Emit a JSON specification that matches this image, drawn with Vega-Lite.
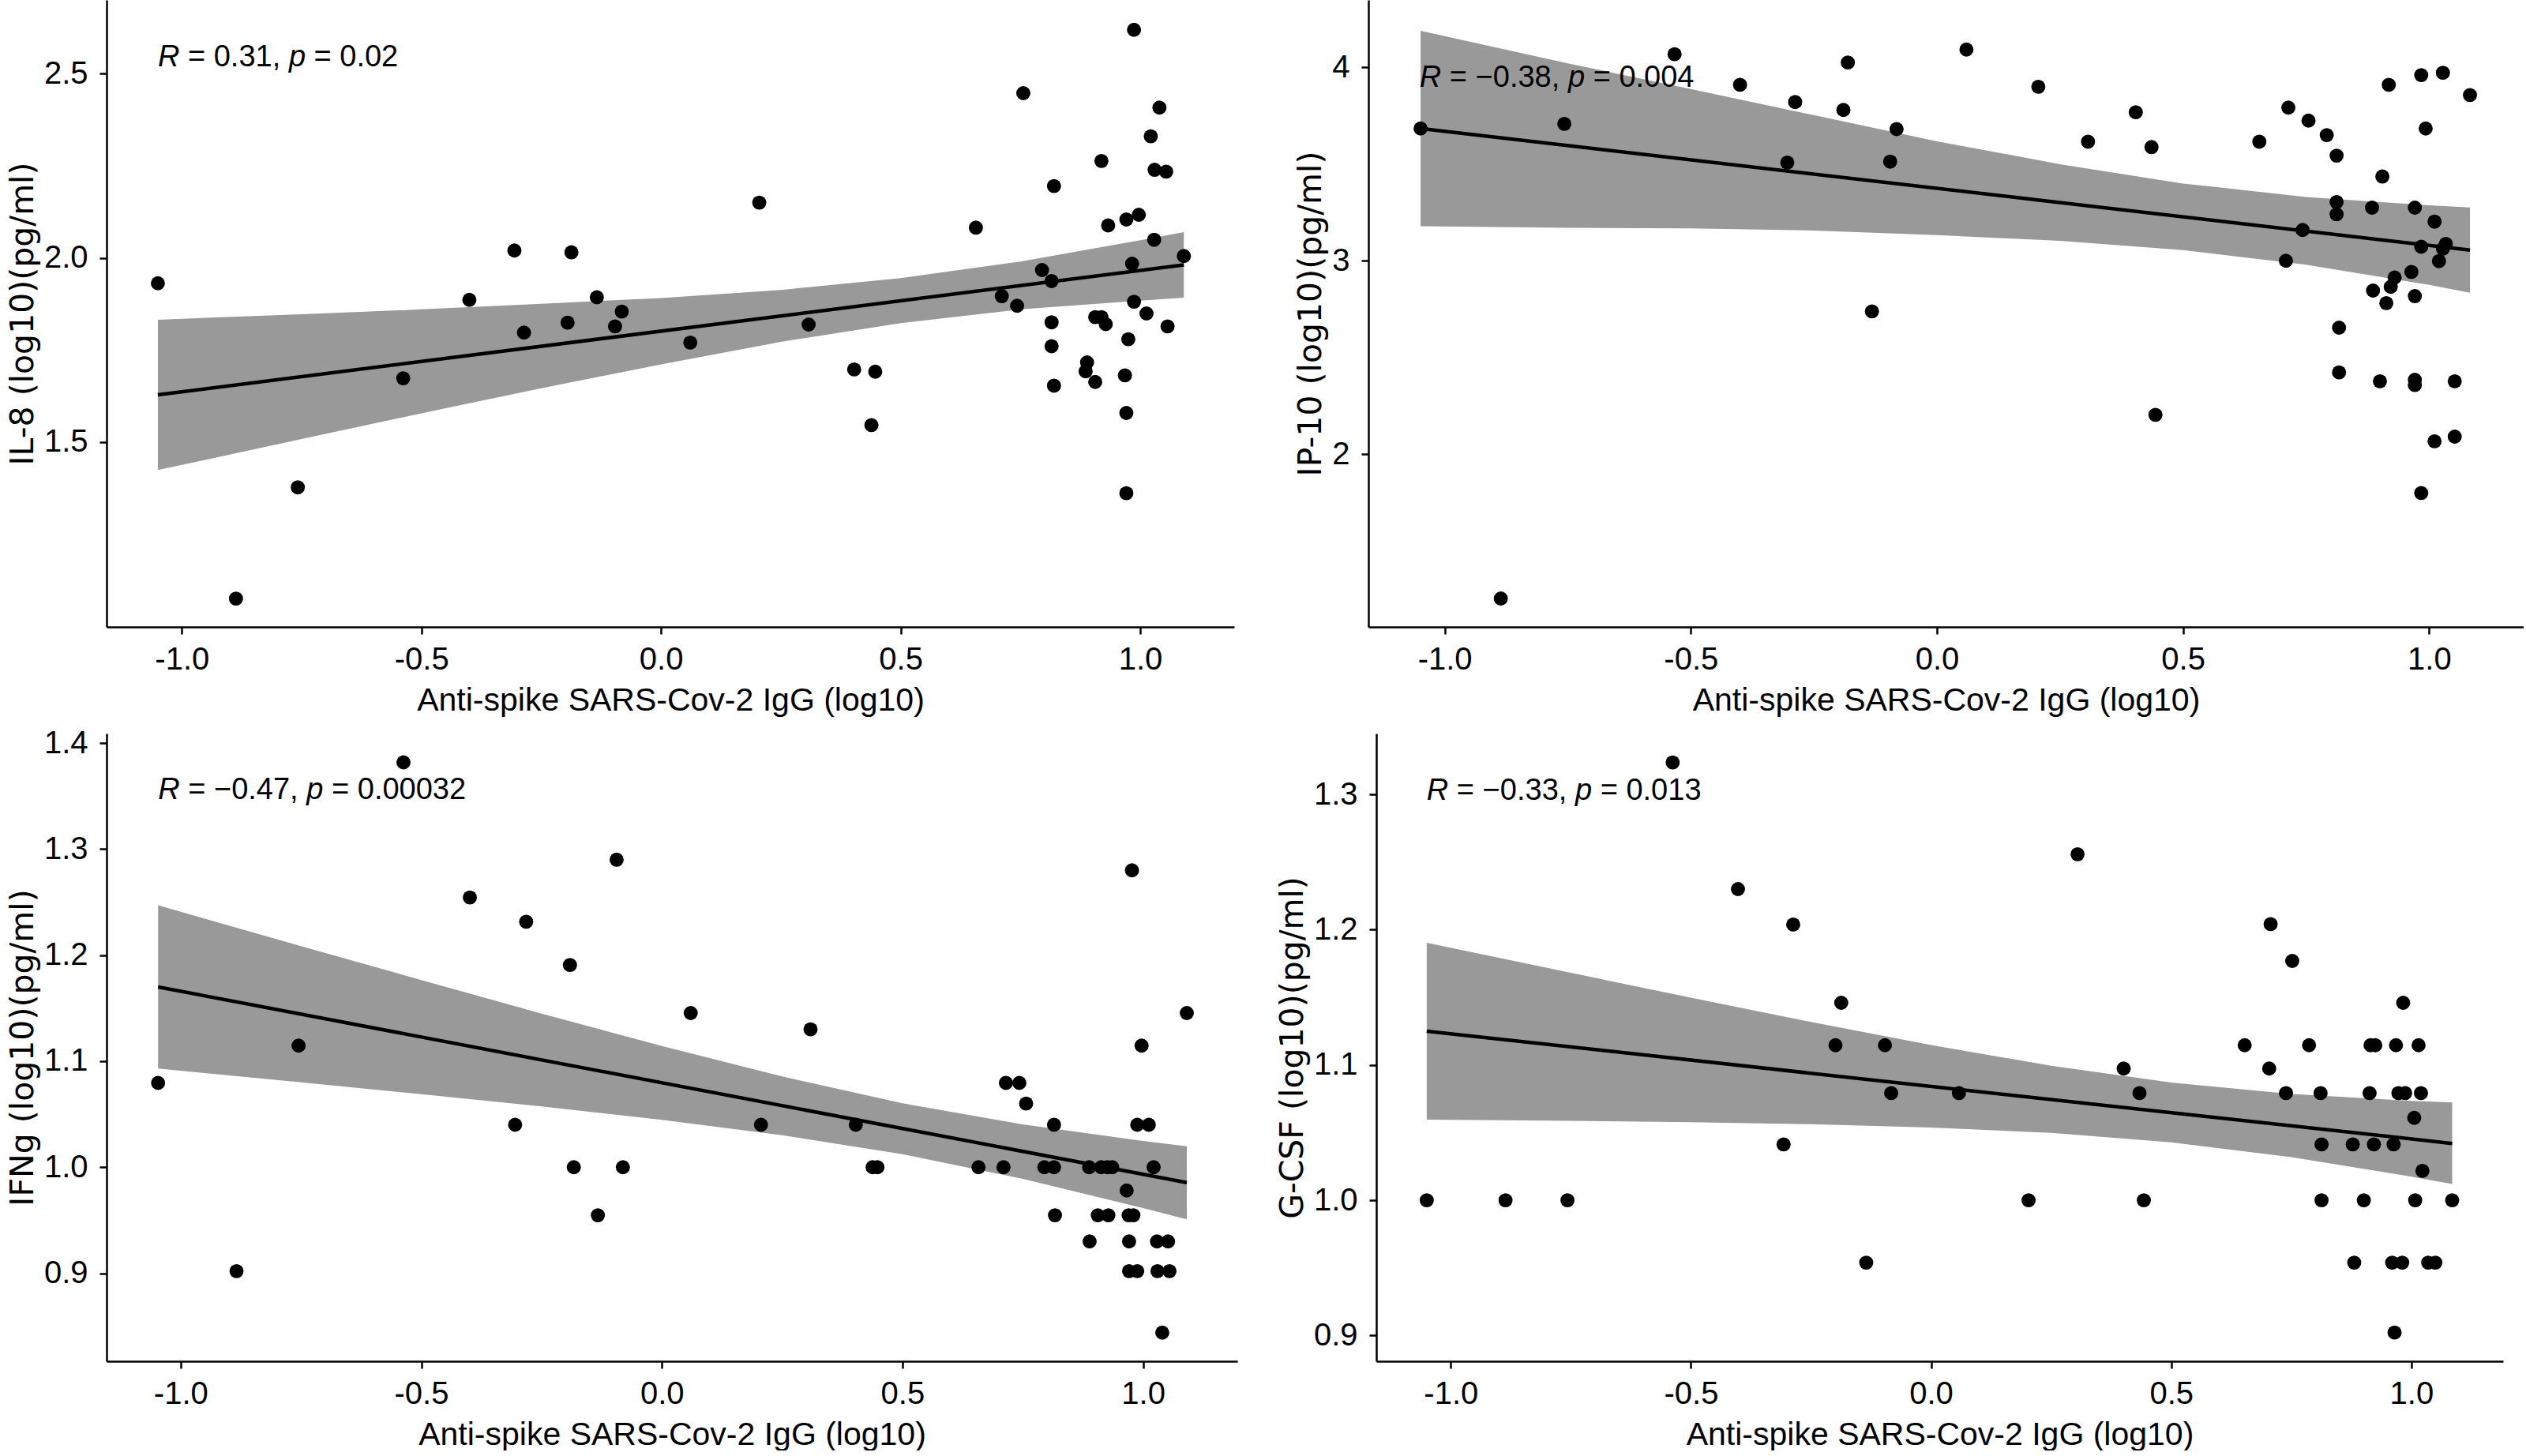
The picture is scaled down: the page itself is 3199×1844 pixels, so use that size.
{
  "$schema": "https://vega.github.io/schema/vega-lite/v6.json",
  "padding": {"left": 8, "top": 0, "right": 0, "bottom": 0},
  "spacing": 14,
  "datasets": {
    "il8_pts": [
      {"x": -1.050, "y": 1.931}, {"x": -0.887, "y": 1.075}, {"x": -0.758, "y": 1.377}, {"x": -0.538, "y": 1.673},
      {"x": -0.400, "y": 1.886}, {"x": -0.306, "y": 2.020}, {"x": -0.286, "y": 1.797}, {"x": -0.195, "y": 1.824},
      {"x": -0.187, "y": 2.015}, {"x": -0.134, "y": 1.893}, {"x": -0.096, "y": 1.814}, {"x": -0.082, "y": 1.854},
      {"x": 0.061, "y": 1.770}, {"x": 0.205, "y": 2.150}, {"x": 0.308, "y": 1.819}, {"x": 0.403, "y": 1.697},
      {"x": 0.447, "y": 1.691}, {"x": 0.439, "y": 1.546}, {"x": 0.657, "y": 2.082}, {"x": 0.711, "y": 1.896},
      {"x": 0.743, "y": 1.870}, {"x": 0.756, "y": 2.447}, {"x": 0.795, "y": 1.967}, {"x": 0.815, "y": 1.937},
      {"x": 0.820, "y": 2.195}, {"x": 0.815, "y": 1.825}, {"x": 0.815, "y": 1.760}, {"x": 0.820, "y": 1.653},
      {"x": 0.889, "y": 1.716}, {"x": 0.886, "y": 1.692}, {"x": 0.906, "y": 1.663}, {"x": 0.906, "y": 1.839},
      {"x": 0.919, "y": 1.839}, {"x": 0.919, "y": 2.263}, {"x": 0.928, "y": 1.820}, {"x": 0.933, "y": 2.088},
      {"x": 0.971, "y": 2.104}, {"x": 0.975, "y": 1.779}, {"x": 0.968, "y": 1.681}, {"x": 0.971, "y": 1.579},
      {"x": 0.971, "y": 1.361}, {"x": 0.987, "y": 2.619}, {"x": 0.983, "y": 1.984}, {"x": 0.987, "y": 1.881},
      {"x": 0.997, "y": 2.117}, {"x": 1.013, "y": 1.849}, {"x": 1.022, "y": 2.330}, {"x": 1.029, "y": 2.049},
      {"x": 1.030, "y": 2.239}, {"x": 1.040, "y": 2.408}, {"x": 1.054, "y": 2.234}, {"x": 1.057, "y": 1.814},
      {"x": 1.091, "y": 2.005}
    ],
    "il8_fit": [{"x": -1.050, "y": 1.628}, {"x": 1.091, "y": 1.981}],
    "il8_band": [
      {"x": -1.050, "y": 1.424, "y2": 1.832}, {"x": -0.75, "y": 1.508, "y2": 1.847},
      {"x": -0.5, "y": 1.578, "y2": 1.860}, {"x": -0.25, "y": 1.646, "y2": 1.875},
      {"x": 0, "y": 1.711, "y2": 1.891}, {"x": 0.25, "y": 1.772, "y2": 1.913},
      {"x": 0.5, "y": 1.823, "y2": 1.945}, {"x": 0.75, "y": 1.860, "y2": 1.990},
      {"x": 1.0, "y": 1.884, "y2": 2.048}, {"x": 1.091, "y": 1.892, "y2": 2.070}
    ],
    "il8_note": [{"x": -1.050, "y": 2.52, "r": "= 0.31,", "p": "= 0.02"}],
    "ip10_pts": [
      {"x": -1.049, "y": 3.683}, {"x": -0.886, "y": 1.255}, {"x": -0.757, "y": 3.707}, {"x": -0.533, "y": 4.067},
      {"x": -0.400, "y": 3.909}, {"x": -0.304, "y": 3.507}, {"x": -0.288, "y": 3.820}, {"x": -0.190, "y": 3.779},
      {"x": -0.181, "y": 4.024}, {"x": -0.132, "y": 2.738}, {"x": -0.095, "y": 3.512}, {"x": -0.082, "y": 3.680},
      {"x": 0.060, "y": 4.091}, {"x": 0.206, "y": 3.899}, {"x": 0.307, "y": 3.615}, {"x": 0.404, "y": 3.767},
      {"x": 0.436, "y": 3.587}, {"x": 0.444, "y": 2.204}, {"x": 0.655, "y": 3.615}, {"x": 0.709, "y": 3.000},
      {"x": 0.714, "y": 3.791}, {"x": 0.743, "y": 3.159}, {"x": 0.755, "y": 3.724}, {"x": 0.792, "y": 3.649},
      {"x": 0.812, "y": 3.543}, {"x": 0.812, "y": 3.303}, {"x": 0.812, "y": 3.240}, {"x": 0.817, "y": 2.654},
      {"x": 0.817, "y": 2.423}, {"x": 0.884, "y": 3.274}, {"x": 0.886, "y": 2.846}, {"x": 0.900, "y": 2.377},
      {"x": 0.905, "y": 3.435}, {"x": 0.913, "y": 2.781}, {"x": 0.918, "y": 3.909}, {"x": 0.922, "y": 2.865},
      {"x": 0.930, "y": 2.913}, {"x": 0.964, "y": 2.942}, {"x": 0.971, "y": 3.274}, {"x": 0.971, "y": 2.817},
      {"x": 0.971, "y": 2.385}, {"x": 0.971, "y": 2.358}, {"x": 0.984, "y": 3.959}, {"x": 0.984, "y": 1.800},
      {"x": 0.984, "y": 3.072}, {"x": 0.993, "y": 3.683}, {"x": 1.011, "y": 3.202}, {"x": 1.011, "y": 2.067},
      {"x": 1.020, "y": 2.998}, {"x": 1.028, "y": 3.971}, {"x": 1.028, "y": 3.062}, {"x": 1.034, "y": 3.087},
      {"x": 1.052, "y": 2.377}, {"x": 1.052, "y": 2.091}, {"x": 1.083, "y": 3.856}
    ],
    "ip10_fit": [{"x": -1.049, "y": 3.683}, {"x": 1.083, "y": 3.055}],
    "ip10_band": [
      {"x": -1.049, "y": 3.178, "y2": 4.188}, {"x": -0.75, "y": 3.170, "y2": 4.020},
      {"x": -0.5, "y": 3.167, "y2": 3.887}, {"x": -0.25, "y": 3.156, "y2": 3.752},
      {"x": 0, "y": 3.132, "y2": 3.617}, {"x": 0.25, "y": 3.103, "y2": 3.499},
      {"x": 0.5, "y": 3.055, "y2": 3.399}, {"x": 0.75, "y": 2.979, "y2": 3.329},
      {"x": 1.0, "y": 2.875, "y2": 3.286}, {"x": 1.083, "y": 2.835, "y2": 3.275}
    ],
    "ip10_note": [{"x": -1.051, "y": 3.90, "r": "= −0.38,", "p": "= 0.004"}],
    "ifng_pts": [
      {"x": -1.047, "y": 1.0795}, {"x": -0.884, "y": 0.902}, {"x": -0.755, "y": 1.1147}, {"x": -0.537, "y": 1.3818},
      {"x": -0.399, "y": 1.2544}, {"x": -0.305, "y": 1.040}, {"x": -0.282, "y": 1.2315}, {"x": -0.191, "y": 1.1907},
      {"x": -0.183, "y": 1.0}, {"x": -0.133, "y": 0.9547}, {"x": -0.094, "y": 1.290}, {"x": -0.081, "y": 1.0},
      {"x": 0.060, "y": 1.1454}, {"x": 0.206, "y": 1.040}, {"x": 0.309, "y": 1.130}, {"x": 0.403, "y": 1.040},
      {"x": 0.438, "y": 1.0}, {"x": 0.448, "y": 1.0}, {"x": 0.658, "y": 1.0}, {"x": 0.710, "y": 1.0},
      {"x": 0.715, "y": 1.0795}, {"x": 0.743, "y": 1.0795}, {"x": 0.757, "y": 1.060}, {"x": 0.795, "y": 1.0},
      {"x": 0.815, "y": 1.040}, {"x": 0.815, "y": 1.0}, {"x": 0.817, "y": 0.9547}, {"x": 0.888, "y": 1.0},
      {"x": 0.889, "y": 0.930}, {"x": 0.906, "y": 0.9547}, {"x": 0.913, "y": 1.0}, {"x": 0.926, "y": 1.0},
      {"x": 0.928, "y": 0.9547}, {"x": 0.936, "y": 1.0}, {"x": 0.966, "y": 0.978}, {"x": 0.970, "y": 0.9547},
      {"x": 0.971, "y": 0.930}, {"x": 0.971, "y": 0.902}, {"x": 0.977, "y": 1.280}, {"x": 0.980, "y": 0.9547},
      {"x": 0.988, "y": 0.902}, {"x": 0.988, "y": 1.040}, {"x": 0.997, "y": 1.1147}, {"x": 1.012, "y": 1.040},
      {"x": 1.022, "y": 1.0}, {"x": 1.029, "y": 0.930}, {"x": 1.030, "y": 0.902}, {"x": 1.040, "y": 0.844},
      {"x": 1.052, "y": 0.930}, {"x": 1.055, "y": 0.902}, {"x": 1.091, "y": 1.1454}
    ],
    "ifng_fit": [{"x": -1.047, "y": 1.170}, {"x": 1.091, "y": 0.9855}],
    "ifng_band": [
      {"x": -1.047, "y": 1.093, "y2": 1.247}, {"x": -0.75, "y": 1.0801, "y2": 1.2085},
      {"x": -0.5, "y": 1.0689, "y2": 1.1765}, {"x": -0.25, "y": 1.0573, "y2": 1.1449},
      {"x": 0, "y": 1.0447, "y2": 1.1143}, {"x": 0.25, "y": 1.0302, "y2": 1.0856},
      {"x": 0.5, "y": 1.0122, "y2": 1.0604}, {"x": 0.75, "y": 0.9890, "y2": 1.0404},
      {"x": 1.0, "y": 0.9615, "y2": 1.0247}, {"x": 1.091, "y": 0.9508, "y2": 1.0198}
    ],
    "ifng_note": [{"x": -1.047, "y": 1.347, "r": "= −0.47,", "p": "= 0.00032"}],
    "gcsf_pts": [
      {"x": -1.050, "y": 1.0}, {"x": -0.886, "y": 1.0}, {"x": -0.757, "y": 1.0}, {"x": -0.538, "y": 1.3236},
      {"x": -0.402, "y": 1.230}, {"x": -0.307, "y": 1.0413}, {"x": -0.287, "y": 1.2038}, {"x": -0.199, "y": 1.1146},
      {"x": -0.187, "y": 1.146}, {"x": -0.135, "y": 0.9539}, {"x": -0.096, "y": 1.1146}, {"x": -0.083, "y": 1.0792},
      {"x": 0.058, "y": 1.0792}, {"x": 0.203, "y": 1.0}, {"x": 0.305, "y": 1.2558}, {"x": 0.401, "y": 1.0974},
      {"x": 0.434, "y": 1.0792}, {"x": 0.443, "y": 1.0}, {"x": 0.653, "y": 1.1146}, {"x": 0.704, "y": 1.0974},
      {"x": 0.707, "y": 1.2041}, {"x": 0.739, "y": 1.0792}, {"x": 0.752, "y": 1.1769}, {"x": 0.787, "y": 1.1146},
      {"x": 0.811, "y": 1.0792}, {"x": 0.813, "y": 1.0413}, {"x": 0.813, "y": 1.0}, {"x": 0.878, "y": 1.0413},
      {"x": 0.881, "y": 0.9539}, {"x": 0.901, "y": 1.0}, {"x": 0.913, "y": 1.0792}, {"x": 0.915, "y": 1.1146},
      {"x": 0.925, "y": 1.1146}, {"x": 0.922, "y": 1.0413}, {"x": 0.960, "y": 0.9539}, {"x": 0.963, "y": 1.0413},
      {"x": 0.968, "y": 1.1146}, {"x": 0.965, "y": 0.9022}, {"x": 0.973, "y": 1.0792}, {"x": 0.981, "y": 0.9539},
      {"x": 0.983, "y": 1.146}, {"x": 0.987, "y": 1.0792}, {"x": 1.006, "y": 1.0609}, {"x": 1.008, "y": 1.0},
      {"x": 1.015, "y": 1.1146}, {"x": 1.020, "y": 1.0792}, {"x": 1.023, "y": 1.0217}, {"x": 1.035, "y": 0.9539},
      {"x": 1.050, "y": 0.9539}, {"x": 1.085, "y": 1.0}
    ],
    "gcsf_fit": [{"x": -1.050, "y": 1.125}, {"x": 1.085, "y": 1.042}],
    "gcsf_band": [
      {"x": -1.050, "y": 1.0596, "y2": 1.1904}, {"x": -0.75, "y": 1.0587, "y2": 1.1681},
      {"x": -0.5, "y": 1.0577, "y2": 1.1497}, {"x": -0.25, "y": 1.0562, "y2": 1.1318},
      {"x": 0, "y": 1.0538, "y2": 1.1148}, {"x": 0.25, "y": 1.0498, "y2": 1.0994},
      {"x": 0.5, "y": 1.0428, "y2": 1.0870}, {"x": 0.75, "y": 1.0319, "y2": 1.0785},
      {"x": 1.0, "y": 1.0175, "y2": 1.0735}, {"x": 1.085, "y": 1.0121, "y2": 1.0723}
    ],
    "gcsf_note": [{"x": -1.050, "y": 1.296, "r": "= −0.33,", "p": "= 0.013"}]
  },
  "vconcat": [
    {
      "spacing": 76,
      "hconcat": [
        {
          "width": 1428,
          "height": 794,
          "encoding": {
            "x": {"field": "x", "type": "quantitative", "title": "Anti-spike SARS-Cov-2 IgG (log10)",
                  "scale": {"domain": [-1.157, 1.196], "nice": false, "zero": false},
                  "axis": {"values": [-1, -0.5, 0, 0.5, 1], "labelExpr": "replace(format(datum.value, '.1f'), '−', '-')"}},
            "y": {"field": "y", "type": "quantitative", "title": "IL-8 (log10)(pg/ml)",
                  "scale": {"domain": [0.998, 2.70], "nice": false, "zero": false},
                  "axis": {"values": [1.5, 2.0, 2.5], "format": ".1f"}}
          },
          "layer": [
            {"data": {"name": "il8_band"}, "mark": {"type": "area", "color": "#999999", "opacity": 1}, "encoding": {"y2": {"field": "y2"}}},
            {"data": {"name": "il8_fit"}, "mark": {"type": "line", "color": "#000000", "strokeWidth": 4.5}},
            {"data": {"name": "il8_pts"}, "mark": {"type": "circle", "color": "#000000", "opacity": 1, "size": 320}},
            {"data": {"name": "il8_note"}, "mark": {"type": "text", "text": "R", "fontStyle": "italic", "align": "left", "baseline": "alphabetic", "dx": 0}},
            {"data": {"name": "il8_note"}, "mark": {"type": "text", "align": "left", "baseline": "alphabetic", "dx": 38}, "encoding": {"text": {"field": "r"}}},
            {"data": {"name": "il8_note"}, "mark": {"type": "text", "text": "p", "fontStyle": "italic", "align": "left", "baseline": "alphabetic", "dx": 166}},
            {"data": {"name": "il8_note"}, "mark": {"type": "text", "align": "left", "baseline": "alphabetic", "dx": 197.6}, "encoding": {"text": {"field": "p"}}}
          ]
        },
        {
          "width": 1463,
          "height": 794,
          "encoding": {
            "x": {"field": "x", "type": "quantitative", "title": "Anti-spike SARS-Cov-2 IgG  (log10)",
                  "scale": {"domain": [-1.155, 1.192], "nice": false, "zero": false},
                  "axis": {"values": [-1, -0.5, 0, 0.5, 1], "labelExpr": "replace(format(datum.value, '.1f'), '−', '-')"}},
            "y": {"field": "y", "type": "quantitative", "title": "IP-10 (log10)(pg/ml)",
                  "scale": {"domain": [1.108, 4.347], "nice": false, "zero": false},
                  "axis": {"values": [2, 3, 4], "format": "d"}}
          },
          "layer": [
            {"data": {"name": "ip10_band"}, "mark": {"type": "area", "color": "#999999", "opacity": 1}, "encoding": {"y2": {"field": "y2"}}},
            {"data": {"name": "ip10_fit"}, "mark": {"type": "line", "color": "#000000", "strokeWidth": 4.5}},
            {"data": {"name": "ip10_pts"}, "mark": {"type": "circle", "color": "#000000", "opacity": 1, "size": 320}},
            {"data": {"name": "ip10_note"}, "mark": {"type": "text", "text": "R", "fontStyle": "italic", "align": "left", "baseline": "alphabetic", "dx": 0}},
            {"data": {"name": "ip10_note"}, "mark": {"type": "text", "align": "left", "baseline": "alphabetic", "dx": 38}, "encoding": {"text": {"field": "r"}}},
            {"data": {"name": "ip10_note"}, "mark": {"type": "text", "text": "p", "fontStyle": "italic", "align": "left", "baseline": "alphabetic", "dx": 188.1}},
            {"data": {"name": "ip10_note"}, "mark": {"type": "text", "align": "left", "baseline": "alphabetic", "dx": 219.8}, "encoding": {"text": {"field": "p"}}}
          ]
        }
      ]
    },
    {
      "spacing": 49,
      "hconcat": [
        {
          "width": 1432,
          "height": 795,
          "encoding": {
            "x": {"field": "x", "type": "quantitative", "title": "Anti-spike SARS-Cov-2 IgG (log10)",
                  "scale": {"domain": [-1.154, 1.196], "nice": false, "zero": false},
                  "axis": {"values": [-1, -0.5, 0, 0.5, 1], "labelExpr": "replace(format(datum.value, '.1f'), '−', '-')"}},
            "y": {"field": "y", "type": "quantitative", "title": "IFNg (log10)(pg/ml)",
                  "scale": {"domain": [0.817, 1.409], "nice": false, "zero": false},
                  "axis": {"values": [0.9, 1.0, 1.1, 1.2, 1.3, 1.4], "format": ".1f"}}
          },
          "layer": [
            {"data": {"name": "ifng_band"}, "mark": {"type": "area", "color": "#999999", "opacity": 1}, "encoding": {"y2": {"field": "y2"}}},
            {"data": {"name": "ifng_fit"}, "mark": {"type": "line", "color": "#000000", "strokeWidth": 4.5}},
            {"data": {"name": "ifng_pts"}, "mark": {"type": "circle", "color": "#000000", "opacity": 1, "size": 320}},
            {"data": {"name": "ifng_note"}, "mark": {"type": "text", "text": "R", "fontStyle": "italic", "align": "left", "baseline": "alphabetic", "dx": 0}},
            {"data": {"name": "ifng_note"}, "mark": {"type": "text", "align": "left", "baseline": "alphabetic", "dx": 38}, "encoding": {"text": {"field": "r"}}},
            {"data": {"name": "ifng_note"}, "mark": {"type": "text", "text": "p", "fontStyle": "italic", "align": "left", "baseline": "alphabetic", "dx": 188.1}},
            {"data": {"name": "ifng_note"}, "mark": {"type": "text", "align": "left", "baseline": "alphabetic", "dx": 219.8}, "encoding": {"text": {"field": "p"}}}
          ]
        },
        {
          "width": 1427,
          "height": 795,
          "encoding": {
            "x": {"field": "x", "type": "quantitative", "title": "Anti-spike SARS-Cov-2 IgG (log10)",
                  "scale": {"domain": [-1.155, 1.191], "nice": false, "zero": false},
                  "axis": {"values": [-1, -0.5, 0, 0.5, 1], "labelExpr": "replace(format(datum.value, '.1f'), '−', '-')"}},
            "y": {"field": "y", "type": "quantitative", "title": "G-CSF  (log10)(pg/ml)",
                  "scale": {"domain": [0.881, 1.345], "nice": false, "zero": false},
                  "axis": {"values": [0.9, 1.0, 1.1, 1.2, 1.3], "format": ".1f"}}
          },
          "layer": [
            {"data": {"name": "gcsf_band"}, "mark": {"type": "area", "color": "#999999", "opacity": 1}, "encoding": {"y2": {"field": "y2"}}},
            {"data": {"name": "gcsf_fit"}, "mark": {"type": "line", "color": "#000000", "strokeWidth": 4.5}},
            {"data": {"name": "gcsf_pts"}, "mark": {"type": "circle", "color": "#000000", "opacity": 1, "size": 320}},
            {"data": {"name": "gcsf_note"}, "mark": {"type": "text", "text": "R", "fontStyle": "italic", "align": "left", "baseline": "alphabetic", "dx": 0}},
            {"data": {"name": "gcsf_note"}, "mark": {"type": "text", "align": "left", "baseline": "alphabetic", "dx": 38}, "encoding": {"text": {"field": "r"}}},
            {"data": {"name": "gcsf_note"}, "mark": {"type": "text", "text": "p", "fontStyle": "italic", "align": "left", "baseline": "alphabetic", "dx": 188.1}},
            {"data": {"name": "gcsf_note"}, "mark": {"type": "text", "align": "left", "baseline": "alphabetic", "dx": 219.8}, "encoding": {"text": {"field": "p"}}}
          ]
        }
      ]
    }
  ],
  "config": {
    "view": {"stroke": null},
    "axis": {
      "grid": false,
      "domainColor": "#000000",
      "domainWidth": 2.5,
      "tickColor": "#000000",
      "tickWidth": 2.5,
      "tickSize": 9,
      "labelFont": "Liberation Sans",
      "labelFontSize": 40,
      "labelColor": "#000000",
      "labelFlush": false,
      "titleColor": "#000000",
      "titleFontWeight": "normal"
    },
    "axisX": {"labelPadding": 12, "titleFont": "Liberation Sans", "titleFontSize": 41, "titlePadding": 12},
    "axisY": {"labelPadding": 15, "titleFont": "DejaVu Sans", "titleFontSize": 41, "titlePadding": 5},
    "text": {"font": "Liberation Sans", "fontSize": 38, "color": "#000000"}
  }
}
